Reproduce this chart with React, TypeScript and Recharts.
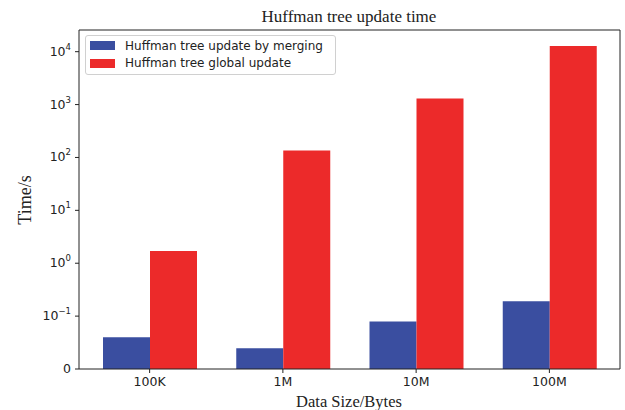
import React from 'react';
import { BarChart, Bar, XAxis, YAxis, Legend } from 'recharts';

const categories = ['100K', '1M', '10M', '100M'];
const mergingTimes = [0.06, 0.039, 0.09, 0.19];
const globalTimes = [1.7, 135, 1300, 12800];
const yTickValues = [0, 0.1, 1, 10, 100, 1000, 10000];
const yTickExponents = [null, '\u22121', '0', '1', '2', '3', '4'];
const seriesNames = ['Huffman tree update by merging', 'Huffman tree global update'];
const seriesColors = ['#3A4EA0', '#EC2A2A'];

// symlog transform, linear below 0.1, one decade per unit above
const LIN_THRESH = 0.1;
const symlog = (v: number) => (v <= LIN_THRESH ? v / LIN_THRESH : 1 + Math.log10(v / LIN_THRESH));

const data = categories.map((size, i) => ({
  size,
  merging: symlog(mergingTimes[i]),
  global: symlog(globalTimes[i]),
}));
const yTicks = yTickValues.map(symlog);

const tickFont = { fontFamily: '"DejaVu Sans", sans-serif', fontSize: 12.5, fill: '#222' };
const serif = '"Liberation Serif", "Times New Roman", serif';

const YTick = (props: any) => {
  const { x, y, payload } = props;
  const idx = yTicks.findIndex((t) => Math.abs(t - payload.value) < 1e-6);
  const exp = yTickExponents[idx];
  return (
    <text x={x} y={y} dy={4} textAnchor="end" {...tickFont}>
      {exp === null ? '0' : (
        <>
          10<tspan dy={-6} fontSize={8.5}>{exp}</tspan>
        </>
      )}
    </text>
  );
};

const LegendBox = () => (
  <div
    style={{
      width: 251,
      height: 40,
      boxSizing: 'border-box',
      border: '1px solid #d0d0d0',
      borderRadius: 3,
      background: 'rgba(255,255,255,0.85)',
      padding: '1px 0 0 4px',
      fontFamily: '"DejaVu Sans", sans-serif',
      fontSize: 12,
      color: '#222',
    }}
  >
    {seriesNames.map((name, i) => (
      <div key={name} style={{ display: 'flex', alignItems: 'center', height: 17.5 }}>
        <span style={{ width: 25, height: 9, background: seriesColors[i], marginRight: 10 }} />
        <span>{name}</span>
      </div>
    ))}
  </div>
);

export default function App() {
  return (
    <div style={{ position: 'absolute', left: 0, top: 0, width: 625, height: 410, background: '#fff' }}>
      <BarChart
        width={625}
        height={410}
        data={data}
        margin={{ top: 29, right: 4, left: 0, bottom: 0 }}
        barGap={0}
        barSize={47}
      >
        <text x={349} y={22} textAnchor="middle" fontFamily={serif} fontSize={17} fill="#222">
          Huffman tree update time
        </text>
        <text x={0} y={0} transform="translate(31 200) rotate(-90)" textAnchor="middle" fontFamily={serif} fontSize={18} fill="#222">
          Time/s
        </text>
        <text x={349} y={407} textAnchor="middle" fontFamily={serif} fontSize={16.5} fill="#222">
          Data Size/Bytes
        </text>
        <XAxis
          dataKey="size"
          height={41}
          padding={{ left: 4, right: 4 }}
          tickSize={4}
          tickMargin={4}
          tick={tickFont}
          axisLine={{ stroke: '#222' }}
          tickLine={{ stroke: '#222' }}
        />
        <XAxis xAxisId="top" dataKey="size" orientation="top" height={1} tick={false} tickLine={false} axisLine={{ stroke: '#222' }} />
        <YAxis
          type="number"
          domain={[0, 6.41]}
          ticks={yTicks}
          width={79}
          tickSize={4}
          tickMargin={4}
          tick={<YTick />}
          axisLine={{ stroke: '#222' }}
          tickLine={{ stroke: '#222' }}
          allowDataOverflow
        />
        <YAxis yAxisId="right" orientation="right" type="number" domain={[0, 6.41]} width={1} tick={false} tickLine={false} axisLine={{ stroke: '#222' }} />
        <Legend
          layout="vertical"
          align="center"
          verticalAlign="middle"
          content={<LegendBox />}
          wrapperStyle={{ position: 'absolute', left: 85, top: 35, width: 251 }}
        />
        <Bar dataKey="merging" name={seriesNames[0]} fill={seriesColors[0]} isAnimationActive={false} />
        <Bar dataKey="global" name={seriesNames[1]} fill={seriesColors[1]} isAnimationActive={false} />
      </BarChart>
    </div>
  );
}
